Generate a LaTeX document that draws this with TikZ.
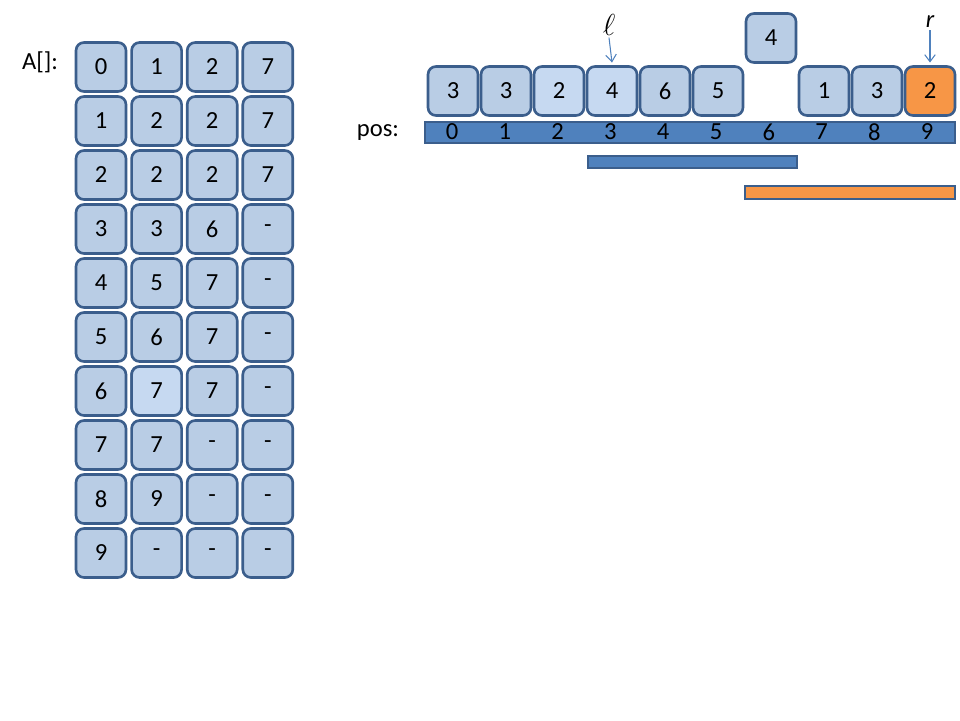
\documentclass[tikz,border=0pt]{standalone}
\usepackage{fontspec}
\setmainfont{Carlito}
\usepackage{tikz}
\usetikzlibrary{positioning, arrows.meta}

\definecolor{cellfill}{HTML}{B9CDE5}
\definecolor{celllight}{HTML}{C6D9F1}
\definecolor{celldraw}{HTML}{3B5E8C}
\definecolor{barfill}{HTML}{4F81BD}
\definecolor{orangefill}{HTML}{F79646}

\begin{document}
\begin{tikzpicture}[x=0.02cm, y=-0.02cm]
    % Stili per celle e barre
    \tikzset{
        cell/.style={
            draw=celldraw,
            line width=1.5pt,
            fill=cellfill,
            rounded corners=0.16cm,
            minimum width=1.0cm,
            minimum height=0.98cm,
            inner sep=0pt,
            font=\fontsize{14}{16}\selectfont
        },
        lightcell/.style={cell, fill=celllight},
        hotcell/.style={cell, fill=orangefill},
        bar/.style={
            draw=celldraw,
            line width=1.5pt,
            fill=barfill,
            inner sep=0pt
        },
        label/.style={font=\fontsize{14}{16}\selectfont, inner sep=1pt},
        pointer/.style={-{Straight Barb[length=4pt, width=6pt]}, draw=barfill, line width=0.6pt}
    }

    \useasboundingbox (0,0) rectangle (960,720);

    % --- Tabella A[] ---
    \node[label] (alabel) at (40,62) {A[]:};
    \foreach \r/\a/\b/\c/\d in {0/0/1/2/7, 1/1/2/2/7, 2/2/2/2/7, 3/3/3/6/-,
                                4/4/5/7/-, 5/5/6/7/-, 6/6/7/7/-, 7/7/7/-/-,
                                8/8/9/-/-, 9/9/-/-/-} {
        \node[cell] (a\r-0) at (101, {67+54*\r}) {\a};
        \node[cell] (a\r-1) at (156.6, {67+54*\r}) {\b};
        \node[cell] (a\r-2) at (212.2, {67+54*\r}) {\c};
        \node[cell] (a\r-3) at (267.8, {67+54*\r}) {\d};
    }
    % cella evidenziata
    \node[lightcell] (a6-1) at (156.6, {67+54*6}) {7};

    % --- Array con posizioni ---
    \foreach \i/\v/\s in {0/3/cell, 1/3/cell, 2/2/lightcell, 3/4/lightcell,
                          4/6/cell, 5/5/cell, 7/1/cell, 8/3/cell, 9/2/hotcell} {
        \node[\s] (p\i) at ({453+53*\i}, 91) {\v};
    }
    % elemento estratto
    \node[cell] (key) at (771, 38) {4};

    % Barra delle posizioni
    \node[label] (poslabel) at (378,133) {pos:};
    \node[bar, minimum width=10.6cm, minimum height=0.42cm] (posbar) at (690,132.5) {};
    \foreach \i in {0,...,9} {
        \node[label] (n\i) at ({452+52.8*\i}, 132) {\i};
    }

    % Intervalli
    \node[bar, minimum width=4.18cm, minimum height=0.24cm] (range) at (692.5,162) {};
    \node[bar, fill=orangefill, minimum width=4.2cm, minimum height=0.26cm] (hotrange) at (850,192.5) {};

    % Puntatori
    \node[inner sep=1pt, font=\LARGE] (ell) at (609,25) {$\ell$};
    \node[label, font=\fontsize{14}{16}\selectfont\itshape] (rr) at (930,22) {r};
    \draw[pointer] (ell.south) -- ([yshift=1.5pt]p3.north);
    \draw[pointer] (rr.south) -- ([yshift=1.5pt]p9.north);
\end{tikzpicture}
\end{document}
